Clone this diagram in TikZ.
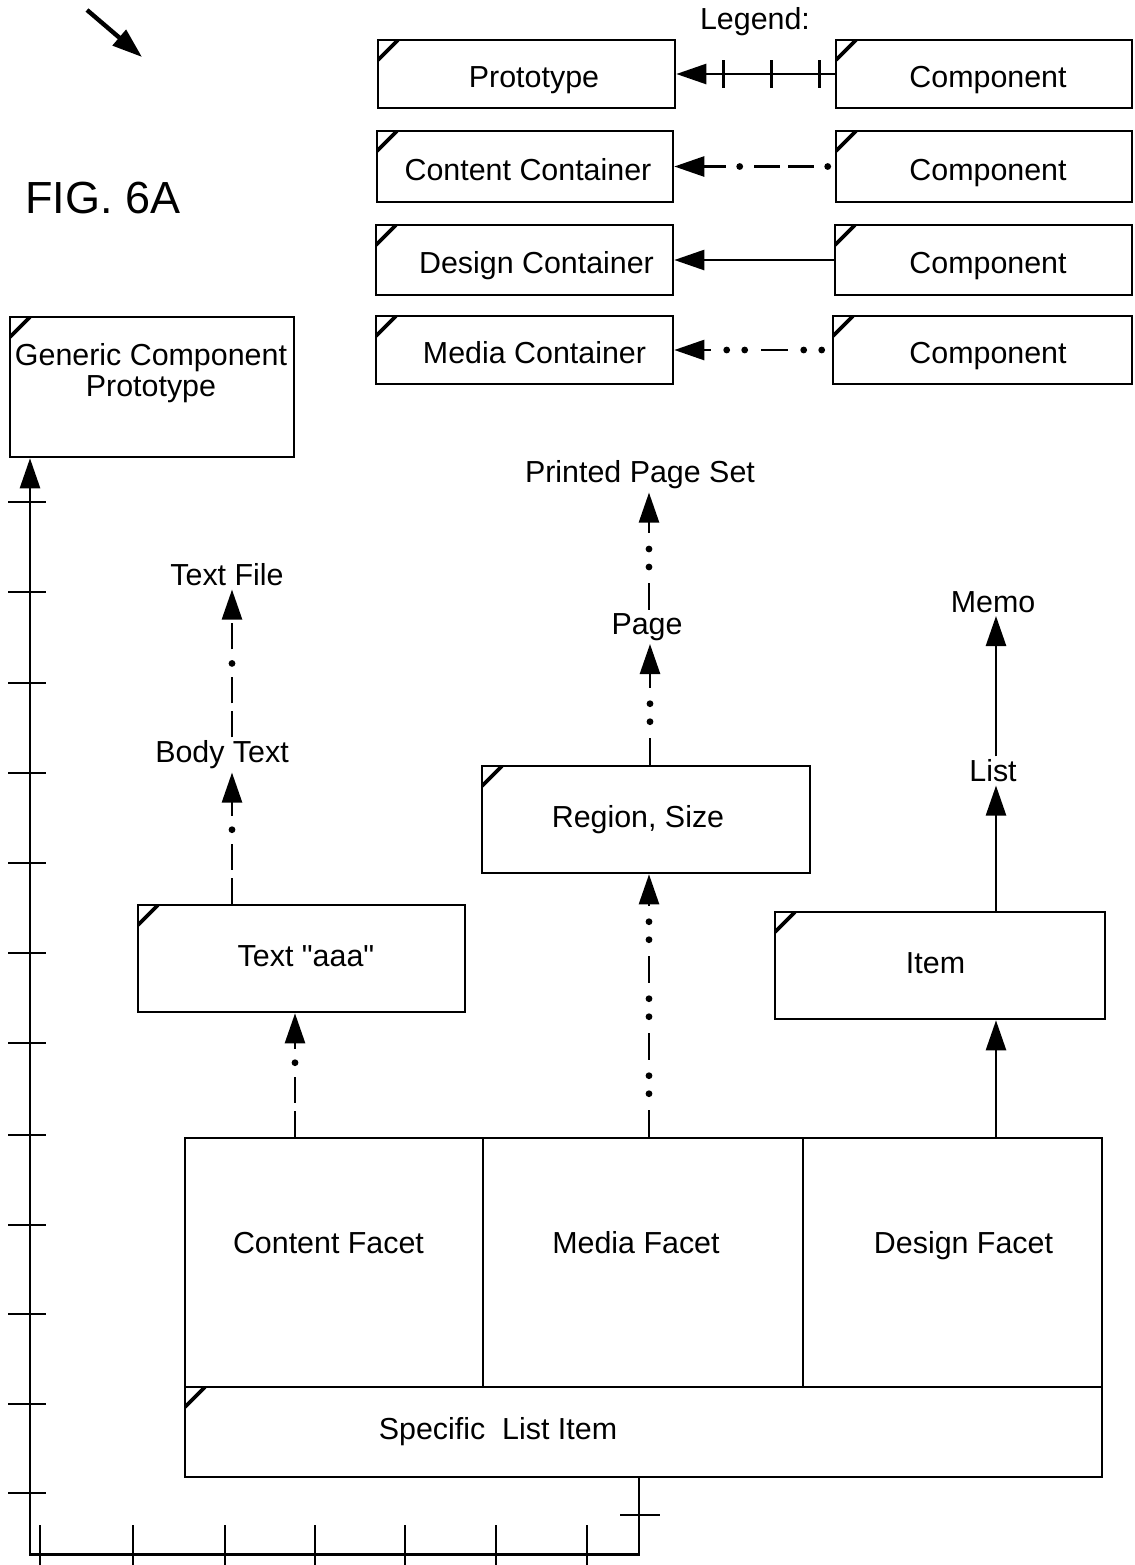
\documentclass[tikz,border=0pt]{standalone}
\usepackage{fontspec}
\setmainfont{Liberation Sans}
\newfontfamily\qfont[Ligatures=TeXOff]{Liberation Sans}
\usetikzlibrary{arrows.meta,calc}
\newcommand\dfont{\fontsize{15.2}{15.5}\selectfont}
\tikzset{
 lw/.style={line width=1.3pt},
 pbox/.style={draw, lw, rectangle, inner sep=0pt, font=\dfont, text height=10.8pt, text depth=3pt},
 cbox/.style={pbox, path picture={\draw[line width=1.8pt] ([yshift=-10pt]path picture bounding box.north west) -- ([xshift=10pt]path picture bounding box.north west);}},
 lowtext/.style={text height=13.5pt, text depth=0pt},
 lbl/.style={inner sep=1.5pt, font=\dfont},
 tip/.style={-{Triangle[length=15pt,width=10pt]}},
 cdashA/.style={lw, line cap=butt, dash pattern=on 13pt off 4pt on 13pt off 7pt on 0pt off 7pt},
 cdotB/.style={line width=3.4pt, line cap=round, dash pattern=on 0pt off 44pt, dash phase=7pt},
 mdashA/.style={lw, line cap=butt, dash pattern=on 13.5pt off 8pt on 0pt off 9pt on 0pt off 8pt},
 mdotB/.style={line width=3.4pt, line cap=round, dash pattern=on 0pt off 9pt on 0pt off 29.5pt, dash phase=17pt},
 facet/.style={pbox, text height=10.8pt, text depth=19.5pt},
}
\newcommand\cconn[2]{\draw[tip, cdashA] #1 -- #2; \draw[cdotB, shorten >=15pt] #1 -- #2;}
\newcommand\mconn[2]{\draw[tip, mdashA] #1 -- #2; \draw[mdotB, shorten >=15pt] #1 -- #2;}
\begin{document}
\begin{tikzpicture}[x=0.5pt,y=-0.5pt]
\useasboundingbox (0,0) rectangle (1135,1565);

% figure pointer and title
\coordinate (ps) at (87,10);
\coordinate (pe) at (142,57);
\draw[line width=2.2pt, tip] (ps) -- (pe);
\node[font=\fontsize{22.5}{24}\selectfont, inner sep=0pt] (fig) at (103,198) {FIG. 6A};

% legend
\node[lbl] (legend) at (755,22) {Legend:};
\node[cbox, lowtext, minimum width=148.5pt, minimum height=34pt] (proto) at (526.5,74) {\hspace*{7.5pt}Prototype};
\node[cbox, lowtext, minimum width=148pt, minimum height=35.5pt] (cont) at (525,166.5) {\hspace*{3pt}Content Container};
\node[cbox, lowtext, minimum width=148.5pt, minimum height=35pt] (des) at (524.5,260) {\hspace*{12pt}Design Container};
\node[cbox, lowtext, minimum width=148.5pt, minimum height=34pt] (med) at (524.5,350) {\hspace*{10pt}Media Container};
\node[cbox, lowtext, minimum width=148pt, minimum height=34pt] (comp1) at (984,74) {\hspace*{4pt}Component};
\node[cbox, lowtext, minimum width=148pt, minimum height=35.5pt] (comp2) at (984,166.5) {\hspace*{4pt}Component};
\node[cbox, lowtext, minimum width=148.5pt, minimum height=35pt] (comp3) at (983.5,260) {\hspace*{4.5pt}Component};
\node[cbox, lowtext, minimum width=149.5pt, minimum height=34pt] (comp4) at (982.5,350) {\hspace*{5.5pt}Component};

\draw[lw, tip] (comp1.west) -- (proto.east);
\foreach \d in {47,95,143} \draw[lw] ($(proto.east)+(\d,-14)$) -- ++(0,28);
\draw[tip, cdashA, dash phase=33.5pt] (comp2.west) -- (cont.east);
\draw[cdotB, dash phase=40.5pt, shorten >=15pt] (comp2.west) -- (cont.east);
\draw[lw, tip] (comp3.west) -- (des.east);
\draw[tip, mdashA, dash phase=16.5pt] (comp4.west) -- (med.east);
\draw[mdotB, dash phase=33.5pt, shorten >=15pt] (comp4.west) -- (med.east);

% generic component prototype
\node[cbox, minimum width=142pt, minimum height=70pt] (gcp) at (152,387) {};
\node[font=\dfont, align=center, inner sep=0pt] (gcptext) at (151,373) {Generic Component\\Prototype};

% intermediate boxes
\node[cbox, minimum width=163.5pt, minimum height=53.5pt] (taaa) at (301.5,958.5) {\hspace*{4.5pt}Text {\qfont"}aaa{\qfont"}};
\node[cbox, minimum width=164pt, minimum height=53.5pt] (region) at (646,819.5) {Region, Size\hspace*{8pt}};
\node[cbox, minimum width=165pt, minimum height=53.5pt] (item) at (940,965.5) {Item\hspace*{4.5pt}};

% labels
\node[lbl] (textfile) at (227,575) {Text File};
\node[lbl] (bodytext) at (222,755) {Body Text};
\node[lbl] (pps) at (640,475) {Printed Page Set};
\node[lbl] (page) at (647,627) {Page};
\node[lbl] (memo) at (993,602) {Memo};
\node[lbl] (list) at (993,771) {List};

% facets
\node[facet, minimum width=149pt, minimum height=124.5pt] (cf) at (334,1262.5) {Content Facet\hspace*{5.5pt}};
\node[facet, minimum width=160pt, minimum height=124.5pt] (mf) at (643,1262.5) {Media Facet\hspace*{7pt}};
\node[facet, minimum width=149.5pt, minimum height=124.5pt] (df) at (952.5,1262.5) {\hspace*{11pt}Design Facet};
\node[cbox, minimum width=458.5pt, minimum height=45pt] (sli) at (643.5,1432) {};
\node[font=\dfont, inner sep=0pt] (slitext) at (498,1432) {Specific\ \ List Item};

% content connectors
\cconn{($(cf.north)+(-39,0)$)}{($(taaa.south)+(-6.5,0)$)}
\cconn{($(taaa.north)+(-69.5,0)$)}{($(bodytext.south)+(10,0)$)}
\cconn{($(bodytext.north)+(10,0)$)}{($(textfile.south)+(5,0)$)}

% media connectors
\mconn{($(mf.north)+(6,0)$)}{($(region.south)+(3,0)$)}
\mconn{($(region.north)+(4,0)$)}{($(page.south)+(3,0)$)}
\mconn{($(page.north)+(2,0)$)}{($(pps.south)+(9,0)$)}

% design connectors
\draw[lw, tip] ($(df.north)+(43.5,0)$) -- ($(item.south)+(56,0)$);
\draw[lw, tip] ($(item.north)+(56,0)$) -- ($(list.south)+(3,0)$);
\draw[lw, tip] ($(list.north)+(3,0)$) -- ($(memo.south)+(3,0)$);

% prototype connector
\draw[lw, tip] ($(sli.south)+(-4.5,0)$) -- ++(0,76) -| ($(gcp.south)+(-122,0)$);
\foreach \y in {502,592,683,773,863,953,1043,1135,1225,1314,1404,1493}
  \draw[lw] (8,\y) -- (46,\y);
\foreach \x in {40,133,225,315,405,496,587}
  \draw[lw] (\x,1525) -- (\x,1565);
\draw[lw] (620,1515) -- (660,1515);
\end{tikzpicture}
\end{document}
